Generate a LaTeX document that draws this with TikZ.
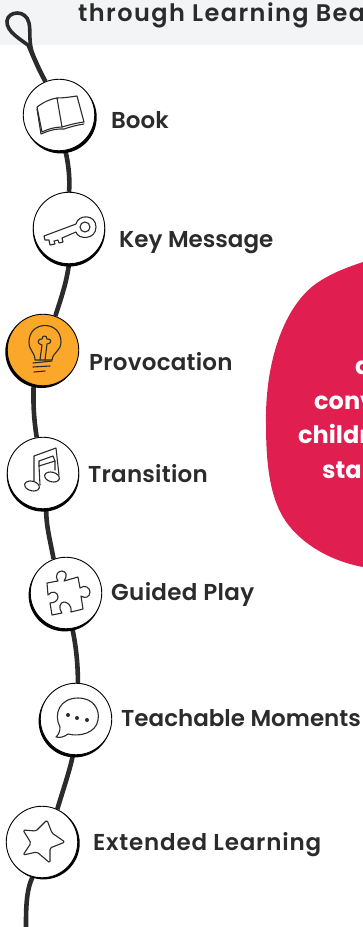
\documentclass[tikz,border=0pt]{standalone}
\usepackage{fontspec}
\setmainfont{Poppins}[UprightFont=* SemiBold,BoldFont=* Bold]
\usetikzlibrary{backgrounds}
\definecolor{ink}{HTML}{2B2B2B}
\definecolor{bulbc}{HTML}{FBA72A}
\definecolor{blob}{HTML}{E01E50}
\definecolor{band}{HTML}{F3F4F6}
\tikzset{
  stepcircle/.style={circle,draw=black,line width=0.9pt,inner sep=0pt,minimum size=71.5pt},
  rope/.style={draw=ink,line width=4.6pt},
  icon/.style={draw=ink,line width=1.1pt,line join=round,line cap=round},
  lab/.style={anchor=base west,inner sep=0pt,text=ink,font=\fontsize{23}{23}\selectfont},
  redtxt/.style={anchor=base west,inner sep=0pt,text=white,font=\bfseries\fontsize{24}{24}\selectfont},
}
\newcommand{\stepat}[6]{% name,x,y,fill,dx,dy
  \fill[black] (#2+#5,#3+#6) circle[radius=36.2pt];
  \node[stepcircle,fill=#4] (#1) at (#2,#3) {};
}
\newcommand{\lsp}[1]{\addfontfeature{LetterSpace=#1}}
\begin{document}
\begin{tikzpicture}[x=1pt,y=-1pt]
\useasboundingbox (0,0) rectangle (363,927);
\clip (0,0) rectangle (363,927);
\begin{pgfonlayer}{background}
\fill[band] (0,0) rectangle (363,45);
\end{pgfonlayer}
\fill[blob] (363,262) .. controls (345,268) and (330,274) .. (317,283)
  .. controls (285,305) and (265,360) .. (266,423)
  .. controls (266,465) and (270,495) .. (283,517)
  .. controls (296,539) and (325,560) .. (363,567) -- cycle;

\stepat{book}{59}{115}{white}{1.5}{2.2}
\stepat{key}{69}{228}{white}{0}{2.4}
\stepat{prov}{43}{350}{bulbc}{-1.5}{1.8}
\stepat{trans}{43}{473}{white}{0}{2.4}
\stepat{guided}{66}{593}{white}{-1.2}{2.2}
\stepat{teach}{76}{719}{white}{-1.2}{2.2}
\stepat{ext}{42}{842}{white}{1.5}{1.2}

\coordinate (ropeend) at (26,927);
\coordinate (loopa) at (29,46);
\begin{pgfonlayer}{background}
\draw[rope] (book.112) .. controls (39,70) and (34,58) .. (loopa);
\draw[draw=ink,line width=3.6pt] (loopa)
  .. controls (22,40) and (6,32) .. (7,21)
  .. controls (8,11) and (26,9) .. (29,23)
  .. controls (31,32) and (28,40) .. (33,55);
\draw[rope] (book.-80) .. controls (69,165) and (70,182) .. (key.north);
\draw[rope] (key.-90) .. controls (66,285) and (61,298) .. (prov.70);
\draw[rope] (prov.-105) .. controls (33,405) and (34,420) .. (trans.100);
\draw[rope] (trans.-85) .. controls (46,525) and (50,540) .. (guided.110);
\draw[rope] (guided.-80) .. controls (76,645) and (78,665) .. (teach.87);
\draw[rope] (teach.-95) .. controls (70,770) and (63,790) .. (ext.65);
\draw[rope] (ext.-105) .. controls (26,890) and (26,910) .. (ropeend);
\end{pgfonlayer}

% book
\draw[icon] (37,107) .. controls (44,102) and (50,99) .. (57,98) -- (62,127)
  .. controls (55,127) and (48,129) .. (42,132) -- cycle;
\draw[icon] (57,98) .. controls (64,98) and (70,97) .. (77,96) -- (84,122)
  .. controls (76,123) and (69,125) .. (62,127);
\draw[icon] (37,109) -- (41,134) .. controls (48,131) and (54,129) .. (60,129) -- (64,129)
  .. controls (70,127) and (77,125) .. (84,124);
% key
\draw[icon] (85,227) circle[radius=5];
\draw[icon] (76,224) .. controls (78,214) and (96,214) .. (96,227)
  .. controls (96,240) and (78,240) .. (76,232)
  -- (62,238) -- (63,242) -- (59,243) -- (58,240) -- (54,241) -- (55,244) -- (50,245)
  -- (49,240) -- (45,240) -- (44,236) -- cycle;
% bulb
\draw[icon] (35,360) .. controls (35,352) and (29,351) .. (29,342)
  .. controls (29,320) and (61,320) .. (61,342)
  .. controls (61,351) and (53,352) .. (52,360) -- cycle;
\draw[icon] (40,360) -- (42,345) .. controls (36,344) and (38,338) .. (42,339)
  .. controls (42,335) and (47,335) .. (47,339)
  .. controls (52,338) and (52,344) .. (47,344) -- (45,360);
\draw[icon] (33,363) -- (52,361);
\draw[icon] (33,367) -- (50,366);
\draw[icon] (34,372) -- (45,371);
% music
\draw[icon] (34,483) -- (34,456) -- (56,448) -- (59,475);
\draw[icon] (40,485) -- (39,466) -- (55,461) -- (55,470);
\draw[icon] (39,466) -- (39,461) -- (53,456) -- (55,461);
\draw[icon,fill=white,rotate around={-15:(32,486)}] (32,486) ellipse[x radius=7.5,y radius=4.8];
\draw[icon,fill=white,rotate around={-15:(52,477)}] (52,477) ellipse[x radius=7.5,y radius=4.8];
% puzzle
\draw[icon] (47,583) -- (58,581) .. controls (54,574) and (59,571) .. (62,571)
  .. controls (66,571) and (68,576) .. (64,581)
  -- (78,577) -- (80,588) .. controls (85,584) and (90,588) .. (90,592)
  .. controls (90,597) and (85,599) .. (81,596)
  -- (83,609) -- (71,612) .. controls (72,605) and (67,602) .. (64,602)
  .. controls (60,602) and (58,608) .. (62,613)
  -- (52,615) -- (50,603) .. controls (55,603) and (58,600) .. (58,597)
  .. controls (58,592) and (52,590) .. (48,595) -- cycle;
% speech
\draw[icon] (60,727) .. controls (53,714) and (60,698) .. (78,698)
  .. controls (94,698) and (100,710) .. (98,720)
  .. controls (96,733) and (80,737) .. (68,734)
  .. controls (64,737) and (60,738) .. (56,737)
  .. controls (59,734) and (60,731) .. (60,727) -- cycle;
\fill[ink] (68,715) circle[radius=2] (77,718) circle[radius=2] (87,720) circle[radius=2];
% star
\draw[icon,rounded corners=1.5pt] (47,820) -- (52,833) -- (65,842) -- (50,848) -- (50,863)
  -- (37,852) -- (23,855) -- (31,843) -- (23,830) -- (36,831) -- cycle;

\node[lab] (tbook) at (111,128) {Book};
\node[lab] (tkey) at (119,247) {Key Message};
\node[lab] (tprov) at (89,370) {\lsp{1}Provocation};
\node[lab] (ttrans) at (88,482) {\lsp{1}Transition};
\node[lab] (tguided) at (111,600) {\lsp{1.5}Guided Play};
\node[lab] (tteach) at (121,726) {Teachable Moments};
\node[lab] (text) at (93,850) {\lsp{3.5}Extended Learning};
\node[lab,font=\fontsize{24}{24}\selectfont] (thead) at (78,21) {\lsp{6}through Learning Bea};
\node[redtxt] (r1) at (355,374) {a};
\node[redtxt] (r2) at (314,409) {conv};
\node[redtxt] (r3) at (298,443) {childr};
\node[redtxt] (r4) at (322,478) {sta};
\end{tikzpicture}
\end{document}
